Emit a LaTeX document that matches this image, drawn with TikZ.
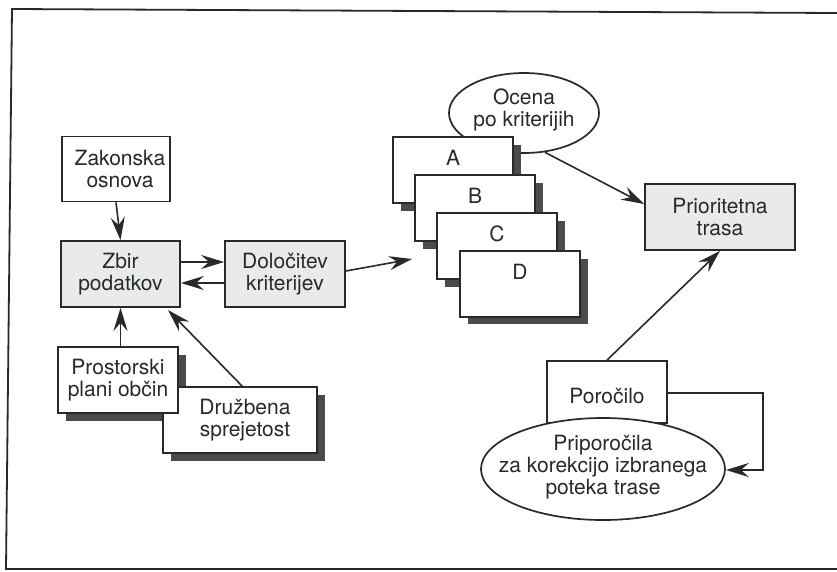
\documentclass[tikz,border=0pt]{standalone}
\usepackage{fontspec}
\setmainfont{TeX Gyre Heros}
\usetikzlibrary{arrows.meta,shapes.geometric,calc}
\definecolor{ink}{HTML}{262A2A}
\definecolor{shadowc}{HTML}{4A4C4C}
\definecolor{boxgray}{HTML}{E9EBEA}
\tikzset{
  every node/.style={font=\fontsize{21}{22}\selectfont, text=ink, align=center, inner sep=0pt},
  plainbox/.style={draw=ink, line width=1.8pt, fill=white, rectangle},
  graybox/.style={draw=ink, line width=1.8pt, fill=boxgray, rectangle},
  oval/.style={draw=ink, line width=1.7pt, fill=white, ellipse},
  conn/.style={draw=ink, line width=1.6pt, -{Stealth[length=23pt,width=14pt,inset=8pt]}},
  frame/.style={draw=ink, line width=1.8pt}
}
\begin{document}
\begin{tikzpicture}[x=1pt,y=-1pt]
\useasboundingbox (0,0) rectangle (837,571);
% frame
\draw[frame] (837,13) -- (12,9) -- (6,569) -- (837,569);

% ---- left group
\node[plainbox, minimum width=108pt, minimum height=65pt] (zak) at (116,169) {};
\node at (120,169) {Zakonska\\osnova};
\node[graybox, minimum width=119pt, minimum height=66pt] (zbir) at (120.5,274) {Zbir\\podatkov};
\node[graybox, minimum width=120pt, minimum height=66pt] (dol) at (285,274) {Določitev\\kriterijev};

% shadows
\fill[shadowc] (66,355) rectangle (186,421);
\fill[shadowc] (171,395) rectangle (325,461);
\node[plainbox, minimum width=154pt, minimum height=66pt] (druz) at (240,420) {};
\node at (240,420) {\hspace*{10pt}Družbena\\\hspace*{10pt}sprejetost};
\node[plainbox, minimum width=120pt, minimum height=66pt] (pros) at (118,380) {Prostorski\\plani občin};

\draw[conn] (zak.south) -- (zbir.north);
\draw[conn] (pros.north -| zbir.south) -- (zbir.south);
\draw[conn] ($(zbir.east)+(0,-12)$) -- ($(dol.west)+(0,-12)$);
\draw[conn] ($(dol.west)+(0,9)$) -- ($(zbir.east)+(0,9)$);
\coordinate (druzTop) at (243,387);
\draw[conn] (druzTop) -- (168,310);

% ---- middle group
\node[oval, minimum width=150pt, minimum height=80pt] (ocena) at (524,113) {};
\node at (524,110) {Ocena\\po kriterijih};

\fill[shadowc] (401,145) rectangle (521,211);
\node[plainbox, minimum width=120pt, minimum height=66pt] (A) at (453,170) {};
\node at (453,158) {A};
\fill[shadowc] (423,183) rectangle (543,249);
\node[plainbox, minimum width=120pt, minimum height=66pt] (B) at (475,208) {};
\node at (475,196) {B};
\fill[shadowc] (445,221) rectangle (565,287);
\node[plainbox, minimum width=120pt, minimum height=66pt] (C) at (497,246) {};
\node at (497,234) {C};
\fill[shadowc] (468,259) rectangle (588,324);
\node[plainbox, minimum width=120pt, minimum height=66pt] (D) at (520,284) {};
\node at (520,272) {D};

\coordinate (abcdIn) at (412,259);
\draw[conn] ($(dol.east)+(0,-3)$) -- (abcdIn);

% ---- right group
\node[graybox, minimum width=150pt, minimum height=66pt] (prio) at (720,217) {Prioritetna\\trasa};
\draw[conn] (ocena.-62) -- (prio.west |- 0,204);

\node[plainbox, minimum width=120pt, minimum height=62pt] (por) at (607,392) {};
\node at (607,396) {Poročilo};
\draw[conn] (por.north) -- (prio.south);

\node[oval, minimum width=244pt, minimum height=102pt] (prip) at (603,469) {};
\node at (603,467) {Priporočila\\za korekcijo izbranega\\poteka trase};
\coordinate (bendA) at (763,393);
\coordinate (bendB) at (763,470);
\draw[conn] (por.east |- bendA) -- (bendA) -- (bendB) -- (prip.east |- bendB);
\end{tikzpicture}
\end{document}
